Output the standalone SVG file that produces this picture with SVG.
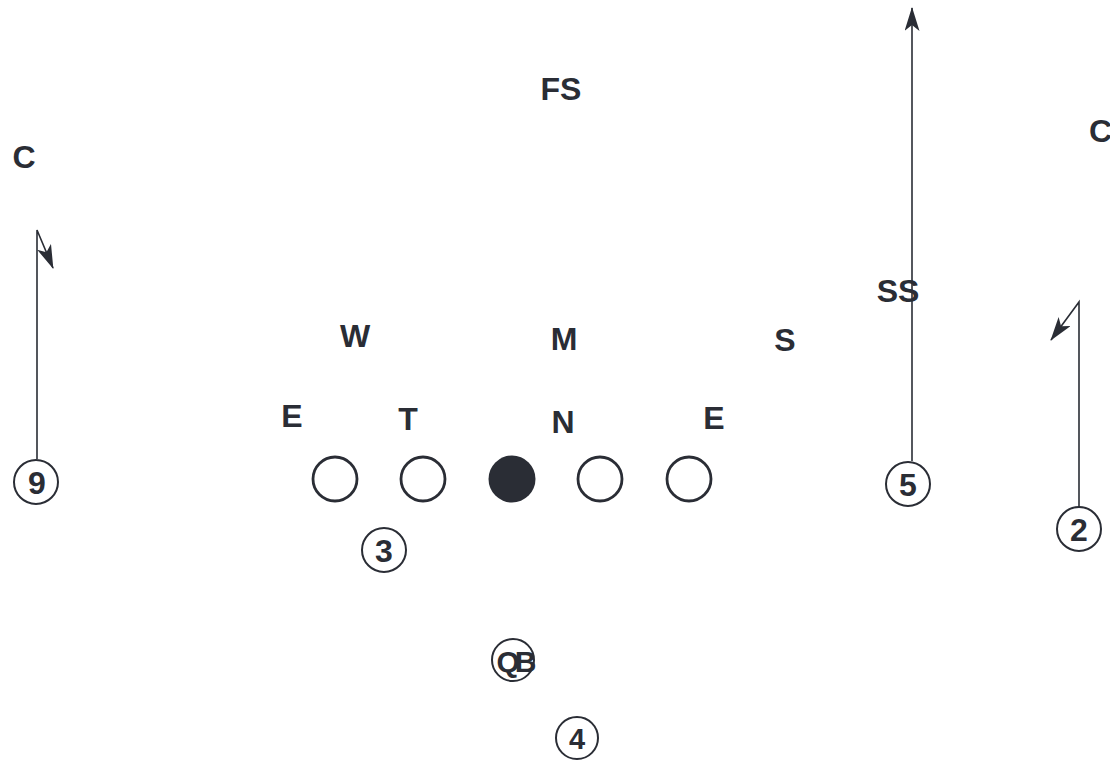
<svg xmlns="http://www.w3.org/2000/svg" width="1110" height="762" viewBox="0 0 1110 762">
<style>
.lbl{font-family:"Liberation Sans",Arial,sans-serif;font-weight:bold;font-size:32px;fill:#2a2d35;text-anchor:middle}
.num{font-family:"Liberation Sans",Arial,sans-serif;font-weight:bold;font-size:32px;fill:#2a2d35;text-anchor:middle}
.ring{fill:none;stroke:#2a2d35;stroke-width:2}
.lin{fill:none;stroke:#2a2d35;stroke-width:2.8}
.route{fill:none;stroke:#2a2d35;stroke-width:1.6}
</style>
<defs>
<marker id="ah2" viewBox="0 0 24 15" refX="23" refY="7.5" markerWidth="24" markerHeight="15" markerUnits="userSpaceOnUse" orient="auto">
<path d="M0,0 L24,7.5 L0,15 L6,7.5 Z" fill="#2a2d35"/>
</marker>
</defs>
<rect width="1110" height="762" fill="#ffffff"/>
<g id="connectors">
<path class="route" d="M37,459 L37,230 L53,268" marker-end="url(#ah2)"/>
<path class="route" d="M1079,506 L1079,302 L1051,340" marker-end="url(#ah2)"/>
<path class="route" d="M912,461 L912,8" marker-end="url(#ah2)"/>
</g>
<g id="defense">
<text id="FS" class="lbl" x="561" y="100">FS</text>
<text id="C-left" class="lbl" x="24" y="168">C</text>
<text id="C-right" class="lbl" x="1089" y="142" style="text-anchor:start">C</text>
<text id="SS" class="lbl" x="898" y="302">SS</text>
<text id="W" class="lbl" x="355" y="347">W</text>
<text id="M" class="lbl" x="564" y="350">M</text>
<text id="S" class="lbl" x="785" y="351">S</text>
<text id="E-left" class="lbl" x="292" y="427">E</text>
<text id="T" class="lbl" x="408" y="430">T</text>
<text id="N" class="lbl" x="563" y="433">N</text>
<text id="E-right" class="lbl" x="714" y="429">E</text>
</g>
<g id="line">
<circle id="LT" class="lin" cx="335" cy="479" r="22"/>
<circle id="LG" class="lin" cx="423" cy="479" r="22"/>
<circle id="C" cx="512" cy="479" r="23.5" fill="#2a2d35"/>
<circle id="RG" class="lin" cx="600" cy="479" r="22"/>
<circle id="RT" class="lin" cx="689" cy="479" r="22"/>
</g>
<g id="p9"><circle class="ring" cx="36" cy="482" r="22"/><text class="num" x="37" y="494">9</text></g>
<g id="p5"><circle class="ring" cx="908" cy="484" r="22"/><text class="num" x="908" y="496">5</text></g>
<g id="p2"><circle class="ring" cx="1079" cy="529" r="22"/><text class="num" x="1079" y="541">2</text></g>
<g id="p3"><circle class="ring" cx="384" cy="550" r="22"/><text class="num" x="384" y="562">3</text></g>
<g id="pQB"><circle class="ring" cx="513" cy="660" r="21"/><text class="num" x="514" y="672" style="font-size:30px;letter-spacing:-5px">QB</text></g>
<g id="p4"><circle class="ring" cx="577" cy="738" r="21"/><text class="num" x="577" y="749" style="font-size:29px">4</text></g>
</svg>
